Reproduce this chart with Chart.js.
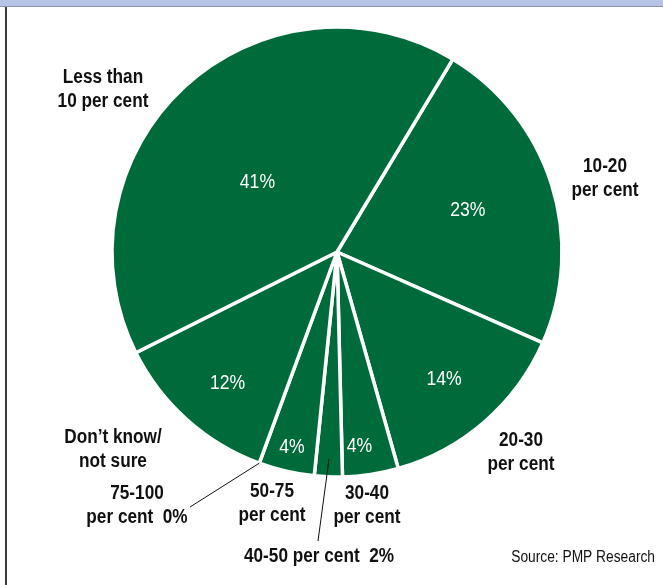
<!DOCTYPE html>
<html>
<head>
<meta charset="utf-8">
<script src="https://cdn.jsdelivr.net/npm/chart.js@4.4.1/dist/chart.umd.min.js"></script>
<style>
  html, body { margin: 0; padding: 0; background: #fff; }
  #wrap { position: relative; width: 663px; height: 585px; overflow: hidden; background: #fff; }
  #topbar { position: absolute; left: 0; top: 0; width: 663px; height: 6px; background: #b5c4e4; border-bottom: 1px solid #8e97a6; }
  #leftrule { position: absolute; left: 5px; top: 7px; width: 2px; height: 578px; background: #3a3a3a; }
  canvas { position: absolute; left: 0; top: 0; }
</style>
</head>
<body>
<div id="wrap">
  <div id="topbar"></div>
  <div id="leftrule"></div>
  <canvas id="c" width="663" height="585"></canvas>
</div>
<script>
// Share of respondents by band (per cent), clockwise from "10-20 per cent"
const categories = ['10-20 per cent', '20-30 per cent', '30-40 per cent', '40-50 per cent',
                    '50-75 per cent', '75-100 per cent', 'Don\u2019t know/not sure', 'Less than 10 per cent'];
const shares = [23, 14, 4, 2, 4, 0, 12, 41];

// Outer caption lines for each slice
const captionLines = [
  ['10-20', 'per cent'],
  ['20-30', 'per cent'],
  ['30-40', 'per cent'],
  ['40-50 per cent  2%'],
  ['50-75', 'per cent'],
  ['75-100', 'per cent  0%'],
  ['Don\u2019t know/', 'not sure'],
  ['Less than', '10 per cent']
];

const GREEN = '#006b3a';
const FONT = "'Liberation Sans', Arial, sans-serif";

// Inner value label placement: [fraction of radius, angle nudge in degrees]
const valueLabelPlacement = [
  [0.61, 0], [0.74, 1], [0.87, 2], null, [0.89, 0], null, [0.76, -2], [0.47, -6]
];
// Caption anchors, offsets from pie centre in px: [dx, dy of first line]
const captionAnchor = [
  [268, -86], [184, 188], [30, 241], [-18, 304], [-65, 239], [-200, 241], [-224, 185], [-234, -175]
];
const LINE_H = 24;

// Draw text squeezed horizontally for a condensed look
function condensedText(ctx, text, x, y, sx) {
  ctx.save();
  ctx.translate(x, y);
  ctx.scale(sx, 1);
  ctx.fillText(text, 0, 0);
  ctx.restore();
}

const labelPlugin = {
  id: 'sliceLabels',
  afterDatasetsDraw(chart) {
    const ctx = chart.ctx;
    const meta = chart.getDatasetMeta(0);
    const arcs = meta.data;
    const cx = arcs[0].x, cy = arcs[0].y;
    ctx.save();
    ctx.textAlign = 'center';
    ctx.textBaseline = 'middle';

    // values inside slices
    ctx.fillStyle = '#ffffff';
    ctx.font = '20px ' + FONT;
    arcs.forEach((arc, i) => {
      const p = valueLabelPlacement[i];
      if (!p) return;
      const a = (arc.startAngle + arc.endAngle) / 2 + p[1] * Math.PI / 180;
      const r = arc.outerRadius * p[0];
      condensedText(ctx, shares[i] + '%', cx + r * Math.cos(a), cy + r * Math.sin(a), 0.88);
    });

    // captions outside
    ctx.fillStyle = '#111111';
    ctx.font = 'bold 20px ' + FONT;
    captionLines.forEach((lines, i) => {
      const [dx, dy] = captionAnchor[i];
      lines.forEach((t, k) => condensedText(ctx, t, cx + dx, cy + dy + k * LINE_H, 0.86));
    });

    // leader lines for the two thin slices
    ctx.strokeStyle = '#111111';
    ctx.lineWidth = 1;
    // 75-100: from caption to the slice on the rim
    const a5 = arcs[5];
    ctx.beginPath();
    ctx.moveTo(cx - 147, cy + 255);
    ctx.lineTo(cx + a5.outerRadius * Math.cos(a5.startAngle), cy + a5.outerRadius * Math.sin(a5.startAngle));
    ctx.stroke();
    // 40-50: from caption up into the slice
    const a3 = arcs[3];
    const am = (a3.startAngle + a3.endAngle) / 2;
    const rm = a3.outerRadius * 0.92;
    ctx.beginPath();
    ctx.moveTo(cx - 19, cy + 289);
    ctx.lineTo(cx + rm * Math.cos(am), cy + rm * Math.sin(am));
    ctx.stroke();

    // source note
    ctx.font = '16px ' + FONT;
    ctx.textAlign = 'right';
    condensedText(ctx, 'Source: PMP Research', 655, 558, 0.86);
    ctx.restore();
  }
};

new Chart(document.getElementById('c'), {
  type: 'pie',
  data: {
    labels: categories,
    datasets: [{
      data: shares,
      backgroundColor: GREEN,
      borderColor: '#ffffff',
      borderWidth: 3.5,
      hoverOffset: 0
    }]
  },
  options: {
    responsive: false,
    animation: false,
    rotation: 31,
    radius: 225,
    layout: { padding: { left: 11, right: 0, top: 0, bottom: 81 } },
    plugins: {
      legend: { display: false },
      tooltip: { enabled: false },
      title: { display: false }
    }
  },
  plugins: [labelPlugin]
});
</script>
</body>
</html>
